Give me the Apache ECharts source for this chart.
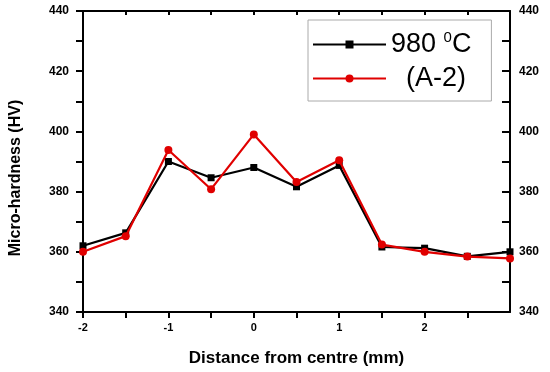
<!DOCTYPE html>
<html>
<head>
<meta charset="utf-8">
<script src="https://cdn.jsdelivr.net/npm/echarts@6/dist/echarts.min.js"></script>
<style>html,body{margin:0;padding:0;background:#fff}#c{width:550px;height:372px}</style>
</head>
<body>
<div id="c"></div>
<script>
var distances = [-2, -1.5, -1, -0.5, 0, 0.5, 1, 1.5, 2, 2.5, 3];
var hv980 = [362, 366.3, 390, 384.6, 388, 381.6, 388.7, 361.6, 361.2, 358.5, 360];
var hvA2 = [360, 365.2, 393.8, 380.8, 399, 383.2, 390.4, 362.4, 360, 358.4, 357.8];
var seriesNames = ['980 0C', '(A-2)'];

var chart = echarts.init(document.getElementById('c'));
function pairs(vals) { return distances.map(function (d, i) { return [d, vals[i]]; }); }
var font = 'Liberation Sans, Arial, sans-serif';
var axisLine = { onZero: false, lineStyle: { color: '#000', width: 2 } };
var tickLine = { color: '#000', width: 2 };
function yLab(v) { return v % 20 === 0 ? String(v) : ''; }
chart.setOption({
  animation: false,
  grid: { left: 77, right: 40, top: 11, bottom: 56 },
  legend: {
    left: 308, top: 20, width: 170,
    orient: 'vertical',
    padding: [10, 20, 9, 4],
    itemGap: 7,
    itemWidth: 73, itemHeight: 10,
    borderColor: '#aaa', borderWidth: 1, backgroundColor: '#fff',
    formatter: function (n) { return n === '980 0C' ? '980 {sup|0}C' : '  ' + n; },
    textStyle: {
      fontFamily: font, fontSize: 27, color: '#000',
      rich: { sup: { fontFamily: font, fontSize: 15, verticalAlign: 'top', padding: [0, 0, 14, 0] } }
    }
  },
  xAxis: [{
    type: 'value', min: -2, max: 3, interval: 0.5,
    name: 'Distance from centre (mm)', nameLocation: 'middle', nameGap: 38,
    nameTextStyle: { fontFamily: font, fontWeight: 'bold', fontSize: 17, color: '#000' },
    axisLine: axisLine,
    axisTick: { inside: false, length: 6, lineStyle: tickLine },
    axisLabel: {
      margin: 10, fontFamily: font, fontWeight: 'bold', fontSize: 11, color: '#000',
      showMaxLabel: false,
      formatter: function (v) { return (Math.abs(v - Math.round(v)) < 1e-6 && v < 3) ? String(v) : ''; }
    },
    splitLine: { show: false }
  }, {
    type: 'value', position: 'top', min: -2, max: 3, interval: 0.5,
    axisLine: axisLine,
    axisTick: { inside: true, length: 4, lineStyle: tickLine },
    axisLabel: { show: false },
    splitLine: { show: false }
  }],
  yAxis: [{
    type: 'value', min: 340, max: 440, interval: 10,
    name: 'Micro-hardness (HV)', nameLocation: 'middle', nameGap: 59,
    nameTextStyle: { fontFamily: font, fontWeight: 'bold', fontSize: 16, color: '#000', padding: [0, 33, 0, 0] },
    axisLine: axisLine,
    axisTick: { inside: false, length: 7, lineStyle: tickLine },
    axisLabel: { margin: 14, fontFamily: font, fontWeight: 'bold', fontSize: 12, color: '#000', formatter: yLab },
    splitLine: { show: false }
  }, {
    type: 'value', position: 'right', min: 340, max: 440, interval: 10,
    axisLine: axisLine,
    axisTick: { inside: true, length: 8, lineStyle: tickLine },
    axisLabel: { margin: 9, fontFamily: font, fontWeight: 'bold', fontSize: 12, color: '#000', formatter: yLab },
    splitLine: { show: false }
  }],
  series: [{
    name: seriesNames[0], type: 'line', xAxisIndex: 0, yAxisIndex: 0,
    data: pairs(hv980), symbol: 'rect', symbolSize: 7,
    lineStyle: { color: '#000', width: 2.2 }, itemStyle: { color: '#000' }, z: 2
  }, {
    name: seriesNames[1], type: 'line', xAxisIndex: 0, yAxisIndex: 0,
    data: pairs(hvA2), symbol: 'circle', symbolSize: 8,
    lineStyle: { color: '#e00000', width: 2.2 }, itemStyle: { color: '#e00000' }, z: 3
  }]
});
</script>
</body>
</html>
